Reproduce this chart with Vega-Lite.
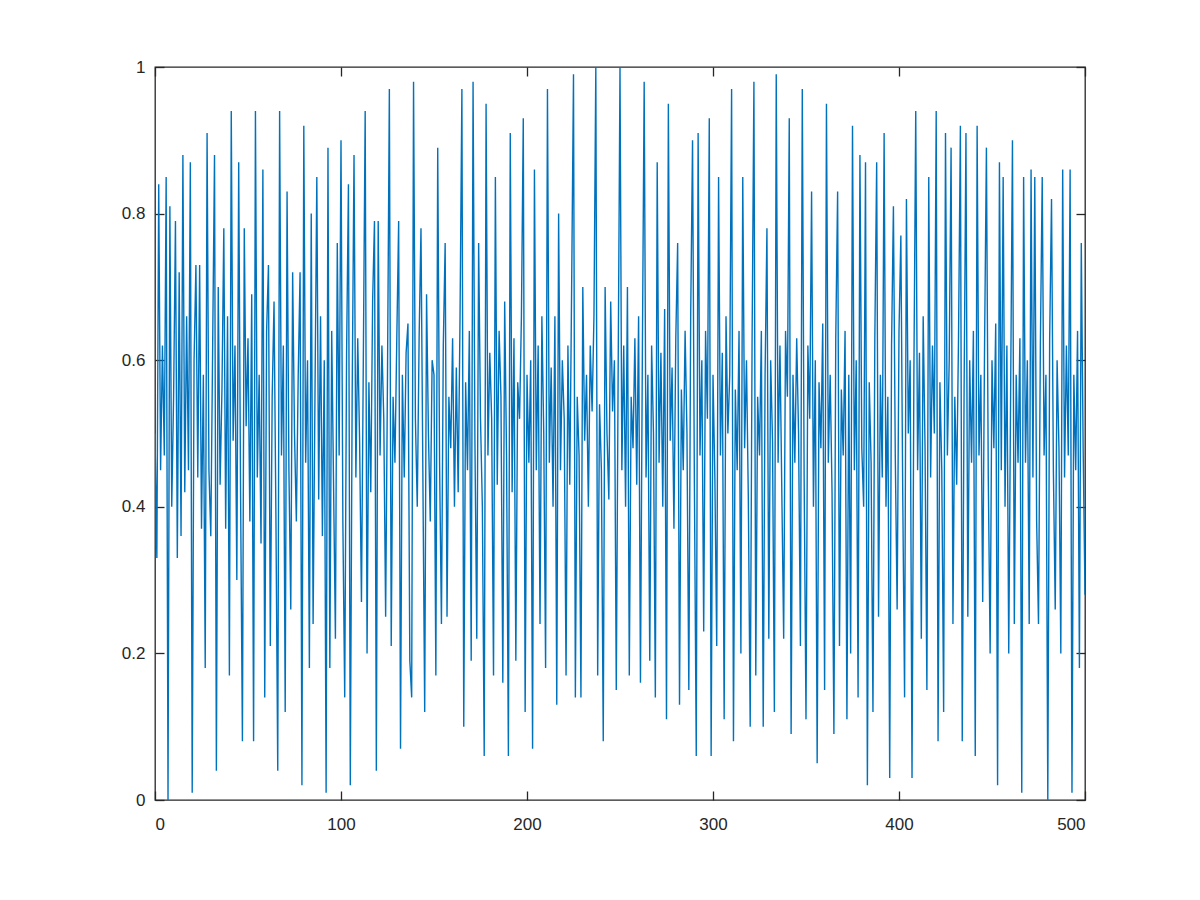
{
  "$schema": "https://vega.github.io/schema/vega-lite/v6.json",
  "autosize": {"type": "none"},
  "width": 930,
  "height": 733,
  "padding": {"left": 155, "top": 67, "right": 115, "bottom": 100},
  "background": "white",
  "config": {
    "view": {"stroke": "#262626", "strokeWidth": 1.3},
    "axis": {
      "domain": false,
      "grid": false,
      "ticks": true,
      "tickColor": "#262626",
      "tickSize": -9,
      "tickWidth": 1.3,
      "labelFont": "Liberation Sans",
      "labelFontSize": 17,
      "labelColor": "#262626",
      "title": null
    }
  },
  "data": {"values": [
{"x":0,"y":0.50},{"x":1,"y":0.33},{"x":2,"y":0.84},{"x":3,"y":0.45},{"x":4,"y":0.62},{"x":5,"y":0.47},{"x":6,"y":0.85},{"x":7,"y":0.00},{"x":8,"y":0.81},{"x":9,"y":0.40},
{"x":10,"y":0.55},{"x":11,"y":0.79},{"x":12,"y":0.33},{"x":13,"y":0.72},{"x":14,"y":0.36},{"x":15,"y":0.88},{"x":16,"y":0.42},{"x":17,"y":0.66},{"x":18,"y":0.45},{"x":19,"y":0.87},
{"x":20,"y":0.01},{"x":21,"y":0.60},{"x":22,"y":0.73},{"x":23,"y":0.44},{"x":24,"y":0.73},{"x":25,"y":0.37},{"x":26,"y":0.58},{"x":27,"y":0.18},{"x":28,"y":0.91},{"x":29,"y":0.45},
{"x":30,"y":0.36},{"x":31,"y":0.62},{"x":32,"y":0.88},{"x":33,"y":0.04},{"x":34,"y":0.70},{"x":35,"y":0.43},{"x":36,"y":0.56},{"x":37,"y":0.78},{"x":38,"y":0.37},{"x":39,"y":0.66},
{"x":40,"y":0.17},{"x":41,"y":0.94},{"x":42,"y":0.49},{"x":43,"y":0.62},{"x":44,"y":0.30},{"x":45,"y":0.87},{"x":46,"y":0.42},{"x":47,"y":0.08},{"x":48,"y":0.78},{"x":49,"y":0.51},
{"x":50,"y":0.63},{"x":51,"y":0.38},{"x":52,"y":0.69},{"x":53,"y":0.08},{"x":54,"y":0.94},{"x":55,"y":0.44},{"x":56,"y":0.58},{"x":57,"y":0.35},{"x":58,"y":0.86},{"x":59,"y":0.14},
{"x":60,"y":0.64},{"x":61,"y":0.73},{"x":62,"y":0.21},{"x":63,"y":0.55},{"x":64,"y":0.68},{"x":65,"y":0.39},{"x":66,"y":0.04},{"x":67,"y":0.94},{"x":68,"y":0.47},{"x":69,"y":0.62},
{"x":70,"y":0.12},{"x":71,"y":0.83},{"x":72,"y":0.45},{"x":73,"y":0.26},{"x":74,"y":0.72},{"x":75,"y":0.50},{"x":76,"y":0.38},{"x":77,"y":0.58},{"x":78,"y":0.72},{"x":79,"y":0.02},
{"x":80,"y":0.92},{"x":81,"y":0.46},{"x":82,"y":0.60},{"x":83,"y":0.18},{"x":84,"y":0.80},{"x":85,"y":0.24},{"x":86,"y":0.55},{"x":87,"y":0.85},{"x":88,"y":0.41},{"x":89,"y":0.66},
{"x":90,"y":0.36},{"x":91,"y":0.60},{"x":92,"y":0.01},{"x":93,"y":0.89},{"x":94,"y":0.18},{"x":95,"y":0.64},{"x":96,"y":0.43},{"x":97,"y":0.22},{"x":98,"y":0.76},{"x":99,"y":0.47},
{"x":100,"y":0.90},{"x":101,"y":0.38},{"x":102,"y":0.14},{"x":103,"y":0.61},{"x":104,"y":0.84},{"x":105,"y":0.02},{"x":106,"y":0.55},{"x":107,"y":0.88},{"x":108,"y":0.44},{"x":109,"y":0.63},
{"x":110,"y":0.49},{"x":111,"y":0.27},{"x":112,"y":0.60},{"x":113,"y":0.94},{"x":114,"y":0.20},{"x":115,"y":0.57},{"x":116,"y":0.42},{"x":117,"y":0.68},{"x":118,"y":0.79},{"x":119,"y":0.04},
{"x":120,"y":0.79},{"x":121,"y":0.47},{"x":122,"y":0.62},{"x":123,"y":0.52},{"x":124,"y":0.25},{"x":125,"y":0.58},{"x":126,"y":0.97},{"x":127,"y":0.21},{"x":128,"y":0.55},{"x":129,"y":0.46},
{"x":130,"y":0.63},{"x":131,"y":0.79},{"x":132,"y":0.07},{"x":133,"y":0.58},{"x":134,"y":0.44},{"x":135,"y":0.61},{"x":136,"y":0.65},{"x":137,"y":0.19},{"x":138,"y":0.14},{"x":139,"y":0.98},
{"x":140,"y":0.52},{"x":141,"y":0.40},{"x":142,"y":0.63},{"x":143,"y":0.78},{"x":144,"y":0.45},{"x":145,"y":0.12},{"x":146,"y":0.69},{"x":147,"y":0.50},{"x":148,"y":0.38},{"x":149,"y":0.60},
{"x":150,"y":0.58},{"x":151,"y":0.17},{"x":152,"y":0.89},{"x":153,"y":0.46},{"x":154,"y":0.24},{"x":155,"y":0.62},{"x":156,"y":0.76},{"x":157,"y":0.25},{"x":158,"y":0.55},{"x":159,"y":0.48},
{"x":160,"y":0.63},{"x":161,"y":0.40},{"x":162,"y":0.59},{"x":163,"y":0.42},{"x":164,"y":0.66},{"x":165,"y":0.97},{"x":166,"y":0.10},{"x":167,"y":0.57},{"x":168,"y":0.45},{"x":169,"y":0.64},
{"x":170,"y":0.19},{"x":171,"y":0.98},{"x":172,"y":0.49},{"x":173,"y":0.22},{"x":174,"y":0.76},{"x":175,"y":0.52},{"x":176,"y":0.40},{"x":177,"y":0.06},{"x":178,"y":0.95},{"x":179,"y":0.47},
{"x":180,"y":0.61},{"x":181,"y":0.52},{"x":182,"y":0.17},{"x":183,"y":0.85},{"x":184,"y":0.43},{"x":185,"y":0.64},{"x":186,"y":0.55},{"x":187,"y":0.16},{"x":188,"y":0.68},{"x":189,"y":0.47},
{"x":190,"y":0.06},{"x":191,"y":0.91},{"x":192,"y":0.42},{"x":193,"y":0.63},{"x":194,"y":0.19},{"x":195,"y":0.57},{"x":196,"y":0.52},{"x":197,"y":0.66},{"x":198,"y":0.93},{"x":199,"y":0.12},
{"x":200,"y":0.58},{"x":201,"y":0.46},{"x":202,"y":0.60},{"x":203,"y":0.07},{"x":204,"y":0.86},{"x":205,"y":0.45},{"x":206,"y":0.62},{"x":207,"y":0.24},{"x":208,"y":0.66},{"x":209,"y":0.50},
{"x":210,"y":0.18},{"x":211,"y":0.97},{"x":212,"y":0.46},{"x":213,"y":0.59},{"x":214,"y":0.40},{"x":215,"y":0.66},{"x":216,"y":0.13},{"x":217,"y":0.80},{"x":218,"y":0.45},{"x":219,"y":0.60},
{"x":220,"y":0.52},{"x":221,"y":0.17},{"x":222,"y":0.62},{"x":223,"y":0.43},{"x":224,"y":0.70},{"x":225,"y":0.99},{"x":226,"y":0.14},{"x":227,"y":0.55},{"x":228,"y":0.47},{"x":229,"y":0.14},
{"x":230,"y":0.70},{"x":231,"y":0.49},{"x":232,"y":0.58},{"x":233,"y":0.40},{"x":234,"y":0.62},{"x":235,"y":0.53},{"x":236,"y":0.66},{"x":237,"y":1.00},{"x":238,"y":0.17},{"x":239,"y":0.54},
{"x":240,"y":0.45},{"x":241,"y":0.08},{"x":242,"y":0.70},{"x":243,"y":0.50},{"x":244,"y":0.41},{"x":245,"y":0.68},{"x":246,"y":0.53},{"x":247,"y":0.60},{"x":248,"y":0.15},{"x":249,"y":0.58},
{"x":250,"y":1.00},{"x":251,"y":0.45},{"x":252,"y":0.62},{"x":253,"y":0.40},{"x":254,"y":0.70},{"x":255,"y":0.17},{"x":256,"y":0.55},{"x":257,"y":0.48},{"x":258,"y":0.63},{"x":259,"y":0.43},
{"x":260,"y":0.66},{"x":261,"y":0.16},{"x":262,"y":0.60},{"x":263,"y":0.98},{"x":264,"y":0.44},{"x":265,"y":0.58},{"x":266,"y":0.19},{"x":267,"y":0.62},{"x":268,"y":0.50},{"x":269,"y":0.14},
{"x":270,"y":0.87},{"x":271,"y":0.46},{"x":272,"y":0.61},{"x":273,"y":0.40},{"x":274,"y":0.67},{"x":275,"y":0.11},{"x":276,"y":0.95},{"x":277,"y":0.49},{"x":278,"y":0.59},{"x":279,"y":0.37},
{"x":280,"y":0.63},{"x":281,"y":0.76},{"x":282,"y":0.13},{"x":283,"y":0.56},{"x":284,"y":0.45},{"x":285,"y":0.64},{"x":286,"y":0.50},{"x":287,"y":0.15},{"x":288,"y":0.66},{"x":289,"y":0.90},
{"x":290,"y":0.43},{"x":291,"y":0.06},{"x":292,"y":0.91},{"x":293,"y":0.47},{"x":294,"y":0.60},{"x":295,"y":0.23},{"x":296,"y":0.64},{"x":297,"y":0.52},{"x":298,"y":0.93},{"x":299,"y":0.06},
{"x":300,"y":0.58},{"x":301,"y":0.44},{"x":302,"y":0.21},{"x":303,"y":0.85},{"x":304,"y":0.47},{"x":305,"y":0.61},{"x":306,"y":0.11},{"x":307,"y":0.66},{"x":308,"y":0.50},{"x":309,"y":0.58},
{"x":310,"y":0.97},{"x":311,"y":0.08},{"x":312,"y":0.56},{"x":313,"y":0.45},{"x":314,"y":0.64},{"x":315,"y":0.20},{"x":316,"y":0.85},{"x":317,"y":0.48},{"x":318,"y":0.60},{"x":319,"y":0.41},
{"x":320,"y":0.10},{"x":321,"y":0.62},{"x":322,"y":0.98},{"x":323,"y":0.17},{"x":324,"y":0.55},{"x":325,"y":0.47},{"x":326,"y":0.64},{"x":327,"y":0.10},{"x":328,"y":0.58},{"x":329,"y":0.78},
{"x":330,"y":0.22},{"x":331,"y":0.60},{"x":332,"y":0.49},{"x":333,"y":0.12},{"x":334,"y":0.99},{"x":335,"y":0.46},{"x":336,"y":0.62},{"x":337,"y":0.42},{"x":338,"y":0.22},{"x":339,"y":0.64},
{"x":340,"y":0.55},{"x":341,"y":0.93},{"x":342,"y":0.09},{"x":343,"y":0.58},{"x":344,"y":0.46},{"x":345,"y":0.63},{"x":346,"y":0.50},{"x":347,"y":0.21},{"x":348,"y":0.97},{"x":349,"y":0.44},
{"x":350,"y":0.11},{"x":351,"y":0.62},{"x":352,"y":0.52},{"x":353,"y":0.83},{"x":354,"y":0.40},{"x":355,"y":0.60},{"x":356,"y":0.05},{"x":357,"y":0.57},{"x":358,"y":0.48},{"x":359,"y":0.65},
{"x":360,"y":0.15},{"x":361,"y":0.95},{"x":362,"y":0.46},{"x":363,"y":0.58},{"x":364,"y":0.42},{"x":365,"y":0.09},{"x":366,"y":0.63},{"x":367,"y":0.83},{"x":368,"y":0.21},{"x":369,"y":0.56},
{"x":370,"y":0.47},{"x":371,"y":0.64},{"x":372,"y":0.11},{"x":373,"y":0.58},{"x":374,"y":0.20},{"x":375,"y":0.92},{"x":376,"y":0.45},{"x":377,"y":0.60},{"x":378,"y":0.14},{"x":379,"y":0.88},
{"x":380,"y":0.48},{"x":381,"y":0.40},{"x":382,"y":0.87},{"x":383,"y":0.02},{"x":384,"y":0.57},{"x":385,"y":0.46},{"x":386,"y":0.12},{"x":387,"y":0.63},{"x":388,"y":0.87},{"x":389,"y":0.25},
{"x":390,"y":0.58},{"x":391,"y":0.44},{"x":392,"y":0.91},{"x":393,"y":0.40},{"x":394,"y":0.55},{"x":395,"y":0.03},{"x":396,"y":0.62},{"x":397,"y":0.81},{"x":398,"y":0.47},{"x":399,"y":0.26},
{"x":400,"y":0.64},{"x":401,"y":0.77},{"x":402,"y":0.42},{"x":403,"y":0.14},{"x":404,"y":0.82},{"x":405,"y":0.50},{"x":406,"y":0.60},{"x":407,"y":0.03},{"x":408,"y":0.58},{"x":409,"y":0.94},
{"x":410,"y":0.45},{"x":411,"y":0.61},{"x":412,"y":0.22},{"x":413,"y":0.66},{"x":414,"y":0.48},{"x":415,"y":0.15},{"x":416,"y":0.85},{"x":417,"y":0.44},{"x":418,"y":0.62},{"x":419,"y":0.50},
{"x":420,"y":0.94},{"x":421,"y":0.08},{"x":422,"y":0.57},{"x":423,"y":0.45},{"x":424,"y":0.12},{"x":425,"y":0.91},{"x":426,"y":0.47},{"x":427,"y":0.60},{"x":428,"y":0.89},{"x":429,"y":0.24},
{"x":430,"y":0.55},{"x":431,"y":0.43},{"x":432,"y":0.63},{"x":433,"y":0.92},{"x":434,"y":0.08},{"x":435,"y":0.56},{"x":436,"y":0.91},{"x":437,"y":0.25},{"x":438,"y":0.60},{"x":439,"y":0.46},
{"x":440,"y":0.64},{"x":441,"y":0.06},{"x":442,"y":0.92},{"x":443,"y":0.47},{"x":444,"y":0.58},{"x":445,"y":0.27},{"x":446,"y":0.62},{"x":447,"y":0.89},{"x":448,"y":0.44},{"x":449,"y":0.20},
{"x":450,"y":0.60},{"x":451,"y":0.48},{"x":452,"y":0.65},{"x":453,"y":0.02},{"x":454,"y":0.87},{"x":455,"y":0.45},{"x":456,"y":0.85},{"x":457,"y":0.40},{"x":458,"y":0.62},{"x":459,"y":0.20},
{"x":460,"y":0.55},{"x":461,"y":0.90},{"x":462,"y":0.24},{"x":463,"y":0.58},{"x":464,"y":0.46},{"x":465,"y":0.63},{"x":466,"y":0.01},{"x":467,"y":0.85},{"x":468,"y":0.46},{"x":469,"y":0.60},
{"x":470,"y":0.24},{"x":471,"y":0.86},{"x":472,"y":0.44},{"x":473,"y":0.85},{"x":474,"y":0.38},{"x":475,"y":0.24},{"x":476,"y":0.62},{"x":477,"y":0.85},{"x":478,"y":0.47},{"x":479,"y":0.58},
{"x":480,"y":0.00},{"x":481,"y":0.63},{"x":482,"y":0.82},{"x":483,"y":0.45},{"x":484,"y":0.26},{"x":485,"y":0.60},{"x":486,"y":0.48},{"x":487,"y":0.20},{"x":488,"y":0.86},{"x":489,"y":0.44},
{"x":490,"y":0.62},{"x":491,"y":0.47},{"x":492,"y":0.86},{"x":493,"y":0.01},{"x":494,"y":0.58},{"x":495,"y":0.45},{"x":496,"y":0.64},{"x":497,"y":0.18},{"x":498,"y":0.76},{"x":499,"y":0.48},
{"x":500,"y":0.28}
  ]},
  "layer": [
    {
      "mark": {"type": "line", "color": "#0072BD", "strokeWidth": 1.4, "clip": true},
      "encoding": {
        "x": {"field": "x", "type": "quantitative", "scale": {"domain": [0, 500], "nice": false, "zero": false},
              "axis": {"orient": "bottom", "values": [0, 100, 200, 300, 400, 500], "format": "d", "labelFontSize": 17, "labelPadding": 25}},
        "y": {"field": "y", "type": "quantitative", "scale": {"domain": [0, 1], "nice": false},
              "axis": {"orient": "left", "values": [0, 0.2, 0.4, 0.6, 0.8, 1], "format": "~g", "labelFontSize": 17, "labelPadding": 19}}
      }
    },
    {
      "mark": {"type": "line", "strokeOpacity": 0},
      "encoding": {
        "x": {"field": "x", "type": "quantitative",
              "axis": {"orient": "top", "values": [0, 100, 200, 300, 400, 500], "labels": false}},
        "y": {"field": "y", "type": "quantitative",
              "axis": {"orient": "right", "values": [0, 0.2, 0.4, 0.6, 0.8, 1], "labels": false}}
      }
    }
  ],
  "resolve": {"axis": {"x": "independent", "y": "independent"}}
}
